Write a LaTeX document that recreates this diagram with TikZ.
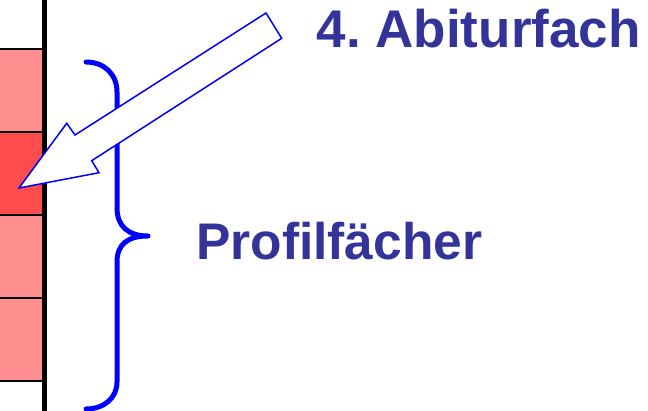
\documentclass[tikz,border=0pt]{standalone}
\usepackage{fontspec}
\setmainfont{Liberation Sans}
\frenchspacing
\definecolor{lightred}{RGB}{255,143,143}
\definecolor{darkred}{RGB}{255,77,77}
\definecolor{textblue}{RGB}{51,51,153}
\definecolor{pureblue}{RGB}{0,0,255}
\tikzset{
  cell/.style={draw=black, line width=1.8pt},
  bracestyle/.style={draw=pureblue, line width=5pt, line cap=round, line join=round},
  blockarrow/.style={draw=pureblue, fill=white, line width=1.5pt, line join=miter},
  label/.style={font=\bfseries, text=textblue, inner sep=0pt, anchor=base west}
}
\begin{document}
\begin{tikzpicture}[x=1pt,y=-1pt]
\useasboundingbox (0,0) rectangle (648,411);
% cells
\path[cell, fill=lightred] (-10,49) rectangle (44,132);
\path[cell, fill=darkred] (-10,132) rectangle (44,215);
\path[cell, fill=lightred] (-10,215) rectangle (44,298);
\path[cell, fill=lightred] (-10,298) rectangle (44,381);
% thick vertical line
\draw[line width=5pt] (44.5,-5) -- (44.5,416);
% brace
\draw[bracestyle] (86,62) .. controls (104,62) and (117,74) .. (117,92)
  -- (117,208) .. controls (117,226) and (128,236) .. (148,236)
  .. controls (128,236) and (117,244) .. (117,262)
  -- (117,382) .. controls (117,398) and (104,409) .. (86,409);
% block arrow
\draw[blockarrow] (266,13) -- (75,135) -- (66.7,123.3) -- (19,188) -- (99,172.7)
  -- (91.7,160.7) -- (281.7,38.3) -- cycle;
% labels
\node[label, font=\fontsize{53}{60}\selectfont\bfseries] (abifach) at (316.5,48) {4. Abiturfach};
\node[label, font=\fontsize{51.5}{58}\selectfont\bfseries] (profil) at (196,260) {Profilfächer};
\end{tikzpicture}
\end{document}
